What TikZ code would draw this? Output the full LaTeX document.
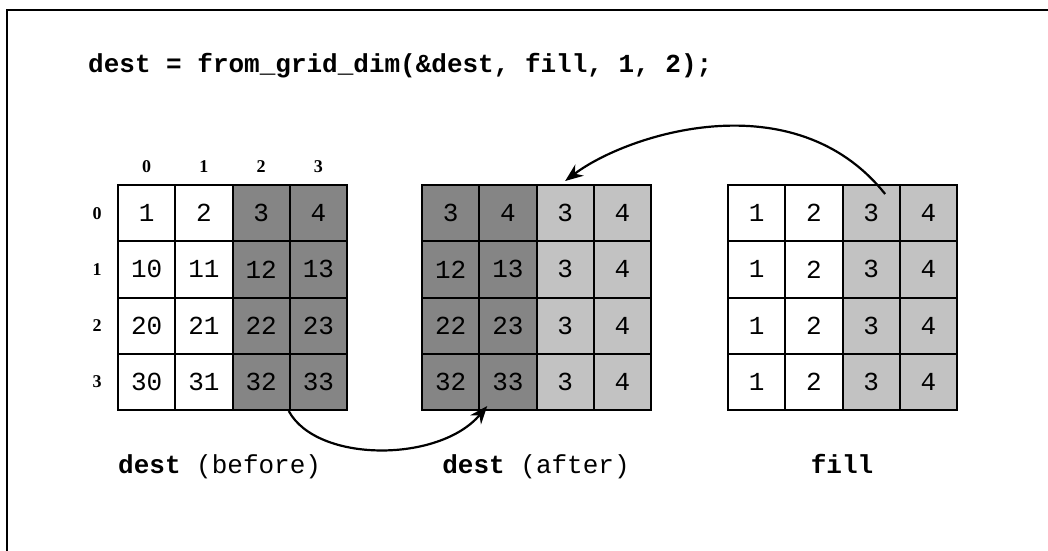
\documentclass[tikz,border=0pt]{standalone}
\usepackage{fontspec}
\setmonofont{Liberation Mono}
\newfontfamily\hdrfont{Liberation Serif}
\usetikzlibrary{arrows.meta}
\definecolor{darkshade}{gray}{0.52}
\definecolor{lightshade}{gray}{0.76}
\tikzset{
  cell/.style={draw, line width=2pt, minimum width=57.25pt, minimum height=56.25pt,
    inner sep=0pt, font=\ttfamily\fontsize{26}{26}\selectfont},
  hdr/.style={font=\hdrfont\bfseries\fontsize{18}{18}\selectfont, inner sep=0pt},
  code/.style={font=\ttfamily\fontsize{26}{26}\selectfont, inner sep=0pt},
  arr/.style={line width=2.2pt, -{Stealth[length=18pt,width=14pt]}},
  frame/.style={line width=2.3pt}
}
\begin{document}
\begin{tikzpicture}[x=1pt,y=-1pt]
\useasboundingbox (0,0) rectangle (1048,550);
\draw[frame] (7,560) -- (7,10) -- (1048,10);
\node[code, anchor=base west] (title) at (88,72) {\textbf{dest = from\_grid\_dim(\&dest, fill, 1, 2);}};
% column and row headers of left grid
\foreach \c in {0,1,2,3} {
  \node[hdr] (ch\c) at ({118+(\c+0.5)*57.25},167) {\c};
  \node[hdr] (rh\c) at (97,{185+(\c+0.5)*56.25}) {\c};
}
% left grid: dest (before)
\foreach \r/\va/\vb/\vc/\vd in {0/1/2/3/4, 1/10/11/12/13, 2/20/21/22/23, 3/30/31/32/33} {
  \node[cell, fill=white] (L-\r-0) at ({118+0.5*57.25},{185+(\r+0.5)*56.25}) {\va};
  \node[cell, fill=white] (L-\r-1) at ({118+1.5*57.25},{185+(\r+0.5)*56.25}) {\vb};
  \node[cell, fill=darkshade] (L-\r-2) at ({118+2.5*57.25},{185+(\r+0.5)*56.25}) {\vc};
  \node[cell, fill=darkshade] (L-\r-3) at ({118+3.5*57.25},{185+(\r+0.5)*56.25}) {\vd};
}
% middle grid: dest (after)
\foreach \r/\va/\vb in {0/3/4, 1/12/13, 2/22/23, 3/32/33} {
  \node[cell, fill=darkshade] (M-\r-0) at ({422+0.5*57.25},{185+(\r+0.5)*56.25}) {\va};
  \node[cell, fill=darkshade] (M-\r-1) at ({422+1.5*57.25},{185+(\r+0.5)*56.25}) {\vb};
  \node[cell, fill=lightshade] (M-\r-2) at ({422+2.5*57.25},{185+(\r+0.5)*56.25}) {3};
  \node[cell, fill=lightshade] (M-\r-3) at ({422+3.5*57.25},{185+(\r+0.5)*56.25}) {4};
}
% right grid: fill
\foreach \r in {0,1,2,3} {
  \node[cell, fill=white] (R-\r-0) at ({728+0.5*57.25},{185+(\r+0.5)*56.25}) {1};
  \node[cell, fill=white] (R-\r-1) at ({728+1.5*57.25},{185+(\r+0.5)*56.25}) {2};
  \node[cell, fill=lightshade] (R-\r-2) at ({728+2.5*57.25},{185+(\r+0.5)*56.25}) {3};
  \node[cell, fill=lightshade] (R-\r-3) at ({728+3.5*57.25},{185+(\r+0.5)*56.25}) {4};
}
% labels
\node[code, anchor=base west] (lab-before) at (118,473) {\textbf{dest} (before)};
\node[code, anchor=base] (lab-after) at (536,473) {\textbf{dest} (after)};
\node[code, anchor=base] (lab-fill) at (842,473) {\textbf{fill}};
% arrows
\draw[arr] (L-3-3.south west) .. controls +(28,52) and +(-48,57) .. ([xshift=9pt,yshift=5pt]M-3-1.south west);
\draw[arr] ([xshift=14pt,yshift=-10pt]R-0-2.north) .. controls +(-91,-114) and +(62,-47) .. ([yshift=3pt]M-0-2.north);
\end{tikzpicture}
\end{document}
